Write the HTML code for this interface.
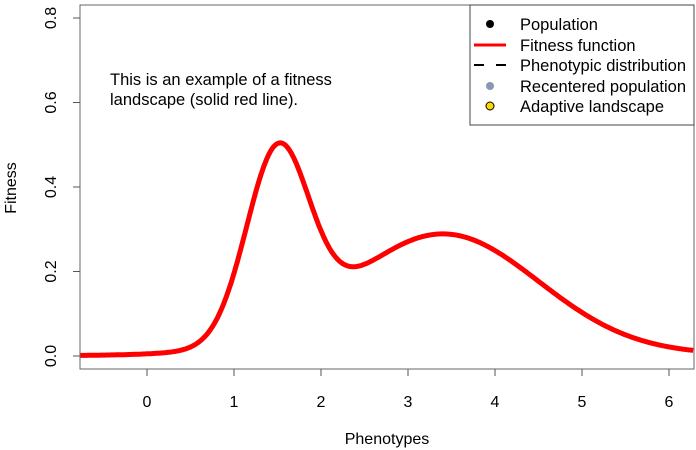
<!DOCTYPE html>
<html><head><meta charset="utf-8"><style>
body{margin:0;background:#fff;}
svg{display:block;font-family:"Liberation Sans",sans-serif;}
</style></head><body>
<svg id="s" width="696" height="450" xmlns="http://www.w3.org/2000/svg">
<rect x="0" y="0" width="696" height="450" fill="#fff"/>
<rect x="80" y="5" width="614" height="364" fill="none" stroke="#666" stroke-width="1"/>
<g stroke="#555" stroke-width="1">
<line x1="147" y1="369" x2="147" y2="376"/><line x1="234" y1="369" x2="234" y2="376"/><line x1="321" y1="369" x2="321" y2="376"/><line x1="408" y1="369" x2="408" y2="376"/><line x1="495" y1="369" x2="495" y2="376"/><line x1="582" y1="369" x2="582" y2="376"/><line x1="669" y1="369" x2="669" y2="376"/>
<line x1="73" y1="356" x2="80" y2="356"/><line x1="73" y1="271.5" x2="80" y2="271.5"/><line x1="73" y1="187" x2="80" y2="187"/><line x1="73" y1="102.5" x2="80" y2="102.5"/><line x1="73" y1="18" x2="80" y2="18"/>
</g>
<g font-size="16" fill="#000" text-anchor="middle">
<text x="147" y="407">0</text><text x="234" y="407">1</text><text x="321" y="407">2</text><text x="408" y="407">3</text><text x="495" y="407">4</text><text x="582" y="407">5</text><text x="669" y="407">6</text>
<text transform="translate(56,356) rotate(-90)">0.0</text>
<text transform="translate(56,271.5) rotate(-90)">0.2</text>
<text transform="translate(56,187) rotate(-90)">0.4</text>
<text transform="translate(56,102.5) rotate(-90)">0.6</text>
<text transform="translate(56,18) rotate(-90)">0.8</text>
<text x="387" y="444">Phenotypes</text>
<text transform="translate(16,188) rotate(-90)">Fitness</text>
</g>
<text x="110" y="85" font-size="16.5">This is an example of a fitness</text>
<text x="110" y="105" font-size="16.5">landscape (solid red line).</text>
<path id="c" fill="none" stroke="#f00" stroke-width="5" stroke-linejoin="round"/>
<rect x="470" y="5" width="224" height="120" fill="#fff" stroke="#444" stroke-width="1"/>
<circle cx="490" cy="24" r="4" fill="#000"/>
<line x1="474" y1="45" x2="506" y2="45" stroke="#f00" stroke-width="3"/>
<line x1="474" y1="65" x2="484" y2="65" stroke="#000" stroke-width="2"/><line x1="496" y1="65" x2="506" y2="65" stroke="#000" stroke-width="2"/>
<circle cx="490" cy="86" r="4" fill="#8a96b4"/>
<circle cx="490" cy="106" r="4" fill="#ffd700" stroke="#000" stroke-width="1"/>
<g font-size="16.5"><text x="520" y="30">Population</text><text x="520" y="51">Fitness function</text><text x="520" y="71">Phenotypic distribution</text><text x="520" y="92">Recentered population</text><text x="520" y="112">Adaptive landscape</text></g>
</svg>
<script>
var d="";for(var i=0;i<=400;i++){var v=-0.8+i*(7.15/400);
var f=0.435*Math.exp(-Math.pow(v-1.5,2)/(2*0.36*0.36))+0.285*Math.exp(-Math.pow(v-3.4,2)/(2*1.1*1.1))+0.004/(1+Math.exp(-(v+0.3)*2));
var x=147+87*v,y=356-422.5*f;if(x<80||x>694)continue;d+=(d?"L":"M")+x.toFixed(1)+","+y.toFixed(1);}
document.getElementById("c").setAttribute("d",d);
</script>
</body></html>
